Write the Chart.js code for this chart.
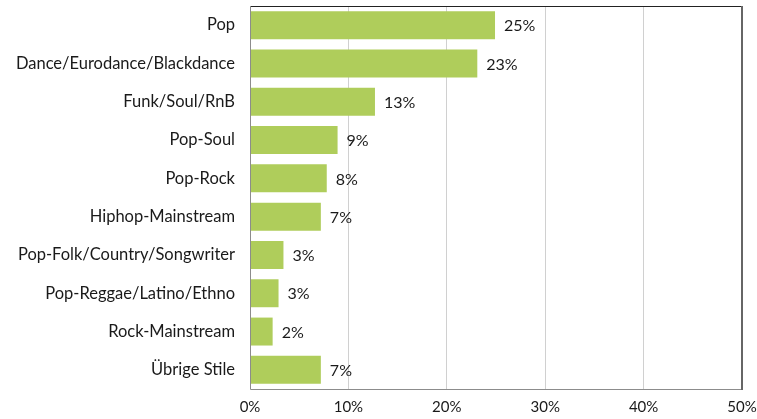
<!DOCTYPE html>
<html>
<head>
<meta charset="utf-8">
<script src="https://cdn.jsdelivr.net/npm/chart.js@4"></script>
<style>
  html, body { margin: 0; padding: 0; background: #fff; }
  #wrap { width: 757px; height: 419px; }
</style>
</head>
<body>
<div id="wrap"><canvas id="chart"></canvas></div>
<script>
// Musikstile und Anteile (in Prozent)
const genres = [
    'Pop',
    'Dance/Eurodance/Blackdance',
    'Funk/Soul/RnB',
    'Pop-Soul',
    'Pop-Rock',
    'Hiphop-Mainstream',
    'Pop-Folk/Country/Songwriter',
    'Pop-Reggae/Latino/Ethno',
    'Rock-Mainstream',
    'Übrige Stile'
];
const shares = [24.9, 23.1, 12.7, 8.9, 7.8, 7.2, 3.4, 2.9, 2.3, 7.2];
const shareLabels = ['25%', '23%', '13%', '9%', '8%', '7%', '3%', '3%', '2%', '7%'];
const xTicks = [0, 10, 20, 30, 40, 50];

const FONT = 'Lato, "Open Sans", sans-serif';

// Rahmen um den Plotbereich
const frame = {
    id: 'frame',
    afterDraw(chart) {
        const { ctx, chartArea: a } = chart;
        ctx.save();
        ctx.lineWidth = 1;
        ctx.strokeStyle = '#222';
        ctx.beginPath();
        ctx.moveTo(a.left, a.top + 0.5);
        ctx.lineTo(a.right, a.top + 0.5);
        ctx.stroke();
        ctx.strokeStyle = '#8c8c8c';
        ctx.beginPath();
        ctx.moveTo(a.left + 0.5, a.top);
        ctx.lineTo(a.left + 0.5, a.bottom + 0.5);
        ctx.lineTo(a.right, a.bottom + 0.5);
        ctx.stroke();
        ctx.lineWidth = 2;
        ctx.strokeStyle = '#666';
        ctx.beginPath();
        ctx.moveTo(a.right, a.top);
        ctx.lineTo(a.right, a.bottom + 1);
        ctx.stroke();
        ctx.restore();
    }
};

// Prozentwerte rechts neben den Balken
const valueLabels = {
    id: 'valueLabels',
    afterDatasetsDraw(chart) {
        const { ctx } = chart;
        const meta = chart.getDatasetMeta(0);
        ctx.save();
        ctx.font = '16px ' + FONT;
        ctx.fillStyle = '#1a1a1a';
        ctx.textAlign = 'left';
        ctx.textBaseline = 'middle';
        meta.data.forEach((bar, i) => {
            ctx.fillText(shareLabels[i], bar.x + 9, bar.y + 1);
        });
        ctx.restore();
    }
};

new Chart(document.getElementById('chart'), {
    type: 'bar',
    data: {
        labels: genres,
        datasets: [{
            data: shares,
            backgroundColor: '#afcd5b',
            borderWidth: 0,
            barPercentage: 0.73,
            categoryPercentage: 1
        }]
    },
    options: {
        indexAxis: 'y',
        responsive: true,
        maintainAspectRatio: false,
        animation: false,
        layout: {
            padding: { left: 0, right: 15, top: 6, bottom: 0 }
        },
        plugins: {
            legend: { display: false },
            tooltip: { enabled: false }
        },
        scales: {
            x: {
                min: 0,
                max: 50,
                afterBuildTicks(scale) {
                    scale.ticks = xTicks.map(v => ({ value: v }));
                },
                afterFit(scale) {
                    scale.height = 30;
                    scale.paddingLeft = 0;
                    scale.paddingRight = 0;
                },
                grid: {
                    color: '#d0d0d0',
                    lineWidth: 1,
                    drawTicks: false
                },
                border: { display: false },
                ticks: {
                    padding: 9,
                    color: '#1a1a1a',
                    font: { family: FONT, size: 15 },
                    callback: v => v + '%'
                }
            },
            y: {
                afterFit(scale) {
                    scale.width = 250;
                    scale.paddingTop = 0;
                    scale.paddingBottom = 0;
                },
                grid: { display: false, drawTicks: false },
                border: { display: false },
                ticks: {
                    padding: 15,
                    color: '#1a1a1a',
                    font: { family: FONT, size: 16.5 }
                }
            }
        }
    },
    plugins: [frame, valueLabels]
});
</script>
</body>
</html>
